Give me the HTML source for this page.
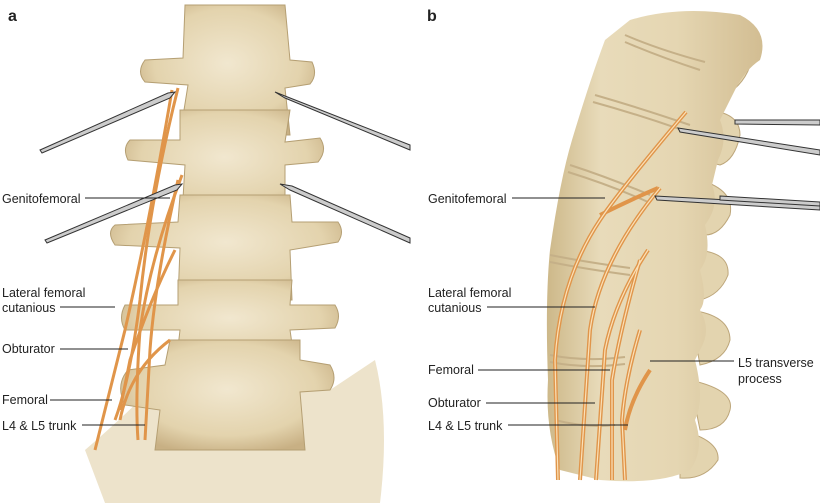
<!DOCTYPE html>
<html><head><style>
body{margin:0;background:#fff;width:820px;height:503px;overflow:hidden}
svg{display:block}
text{font-family:"Liberation Sans",sans-serif;font-size:12.5px;fill:#222}
</style></head><body>
<svg width="820" height="503" viewBox="0 0 820 503">
<defs>
<radialGradient id="bone" cx="50%" cy="45%" r="60%">
<stop offset="0" stop-color="#f1e7cf"/><stop offset="0.7" stop-color="#e3d3ad"/><stop offset="1" stop-color="#c8b084"/>
</radialGradient>
<linearGradient id="boneb" x1="0" x2="1">
<stop offset="0" stop-color="#cdb889"/><stop offset="0.25" stop-color="#e8dbba"/><stop offset="0.6" stop-color="#e5d6b2"/><stop offset="1" stop-color="#d2bd92"/>
</linearGradient>
</defs>
<g fill="url(#bone)" stroke="#b59f73" stroke-width="1">
<path d="M85 450 Q120 420 150 390 L330 390 Q360 370 375 360 Q390 420 380 503 L105 503 Z" fill="#ede3cb" stroke="none"/>
<path d="M185 5 L285 5 L290 60 L312 62 Q318 75 310 84 L285 88 L290 135 L180 135 L188 85 L145 82 Q136 72 145 60 L183 58 Z"/>
<path d="M180 110 L290 110 L285 142 L320 138 Q328 150 318 162 L285 165 L285 215 L182 215 L185 165 L128 160 Q122 148 130 140 L180 140 Z"/>
<path d="M180 195 L290 195 L292 222 L338 222 Q345 232 338 242 L290 250 L292 300 L178 300 L180 248 L115 245 Q106 232 115 225 L178 222 Z"/>
<path d="M178 280 L292 280 L290 305 L335 305 Q342 316 335 328 L290 330 L295 365 L176 365 L180 330 L125 330 Q118 318 125 305 L178 305 Z"/>
<path d="M170 340 L300 340 L300 360 L330 365 Q338 378 330 390 L300 392 L305 450 L155 450 L160 410 L125 405 Q115 385 128 370 L165 365 Z"/>
</g>
<!-- spine b processes -->
<g fill="#e3d4af" stroke="#bda67a">
<path d="M700 40 Q740 40 752 60 Q745 85 725 95 L700 90 Z"/>
<path d="M700 110 Q740 110 740 135 Q735 160 720 165 L700 160 Z"/>
<path d="M700 180 Q735 190 730 215 Q720 235 705 235 Z"/>
<path d="M690 250 Q730 250 728 275 Q720 295 700 300 Z"/>
<path d="M690 310 Q730 315 730 340 Q725 360 700 365 Z"/>
<path d="M690 380 Q735 390 730 410 Q725 430 700 430 Z"/>
<path d="M680 430 Q720 440 718 460 Q705 480 680 478 Z"/>
</g>
<path d="M630 20 Q680 5 740 15 Q770 30 760 60 Q745 70 735 90 L720 120 Q728 140 718 160 L712 185 Q720 205 705 225 Q712 255 700 270 Q708 300 700 310 Q712 330 700 350 L695 360 Q705 400 695 420 Q705 450 690 470 Q660 485 600 480 L560 470 Q545 430 548 380 Q545 300 550 250 Q560 180 572 140 Q590 80 605 40 Z" fill="url(#boneb)" stroke="none"/>
<g stroke="#c5b088" stroke-width="2" fill="none">
<path d="M625 35 Q660 50 705 62"/><path d="M625 42 Q660 57 700 70"/>
<path d="M595 95 Q640 108 690 125"/><path d="M593 102 Q640 115 688 132"/>
<path d="M570 165 Q610 178 650 195"/><path d="M568 172 Q610 185 648 202"/>
<path d="M550 255 Q585 262 630 268"/><path d="M550 262 Q585 269 630 275"/>
<path d="M550 355 Q585 362 625 357"/><path d="M550 362 Q585 369 625 364"/>
<path d="M555 420 Q585 428 615 425"/>
</g>
<!-- nerves -->
<g stroke="#e0954a" stroke-width="3" fill="none">
<path d="M178 88 Q150 200 140 300 Q130 380 115 420"/>
<path d="M172 90 Q150 220 125 330 L95 450"/>
<path d="M182 175 Q150 260 140 330 Q135 400 138 440"/>
<path d="M178 180 Q155 280 150 350 L145 440"/>
<path d="M175 250 Q150 300 130 360 L120 410"/>
<path d="M170 340 Q130 370 120 420"/>
</g>
<g stroke="#e0954a" stroke-width="4" fill="none">
<path d="M686 112 Q620 190 600 220 Q560 280 555 360 L558 480"/>
<path d="M658 188 Q630 200 600 215"/>
<path d="M660 188 Q600 260 590 330 L580 480"/>
<path d="M648 250 Q615 300 605 350 L596 480"/>
<path d="M640 260 Q620 330 612 380 L612 480"/>
<path d="M640 330 Q625 380 622 420 L625 480"/>
<path d="M650 370 Q630 400 625 430"/>
</g>
<g stroke="#fbe1b8" stroke-width="1.2" fill="none">
<path d="M686 112 Q620 190 600 220 Q560 280 555 360 L558 480"/>
<path d="M660 188 Q600 260 590 330 L580 480"/>
<path d="M648 250 Q615 300 605 350 L596 480"/>
<path d="M640 260 Q620 330 612 380 L612 480"/>
<path d="M640 330 Q625 380 622 420 L625 480"/>
</g>
<!-- needles -->
<g stroke="#333" stroke-width="1" fill="#ccc">
<path d="M40 150 L168 93 L175 92 L170 98 L42 153 Z"/>
<path d="M45 240 L175 185 L182 184 L177 190 L47 243 Z"/>
<path d="M410 150 L285 98 L275 92 L285 96 L410 145 Z"/>
<path d="M410 243 L290 190 L280 184 L292 186 L410 238 Z"/>
<path d="M678 128 L820 150 L820 155 L680 132 Z"/>
<path d="M735 120 L820 120 L820 125 L735 124 Z"/>
<path d="M655 196 L820 205 L820 210 L657 200 Z"/>
<path d="M720 196 L820 202 L820 206 L720 200 Z"/>
</g>
<g stroke="#222" stroke-width="0.9">
<line x1="85" y1="198" x2="170" y2="198"/>
<line x1="60" y1="307" x2="115" y2="307"/>
<line x1="60" y1="349" x2="128" y2="349"/>
<line x1="50" y1="400" x2="112" y2="400"/>
<line x1="82" y1="425" x2="145" y2="425"/>
<line x1="512" y1="198" x2="605" y2="198"/>
<line x1="487" y1="307" x2="595" y2="307"/>
<line x1="478" y1="370" x2="610" y2="370"/>
<line x1="486" y1="403" x2="595" y2="403"/>
<line x1="508" y1="425" x2="628" y2="425"/>
<line x1="650" y1="361" x2="734" y2="361"/>
</g>
<text x="8" y="21" style="font-weight:bold;font-size:16px">a</text>
<text x="427" y="21" style="font-weight:bold;font-size:16px">b</text>
<text x="2" y="203">Genitofemoral</text>
<text x="2" y="297">Lateral femoral</text>
<text x="2" y="312">cutanious</text>
<text x="2" y="353">Obturator</text>
<text x="2" y="404">Femoral</text>
<text x="2" y="430">L4 &amp; L5 trunk</text>
<text x="428" y="203">Genitofemoral</text>
<text x="428" y="297">Lateral femoral</text>
<text x="428" y="312">cutanious</text>
<text x="428" y="374">Femoral</text>
<text x="428" y="407">Obturator</text>
<text x="428" y="430">L4 &amp; L5 trunk</text>
<text x="738" y="367">L5 transverse</text>
<text x="738" y="383">process</text>
</svg>
</body></html>
